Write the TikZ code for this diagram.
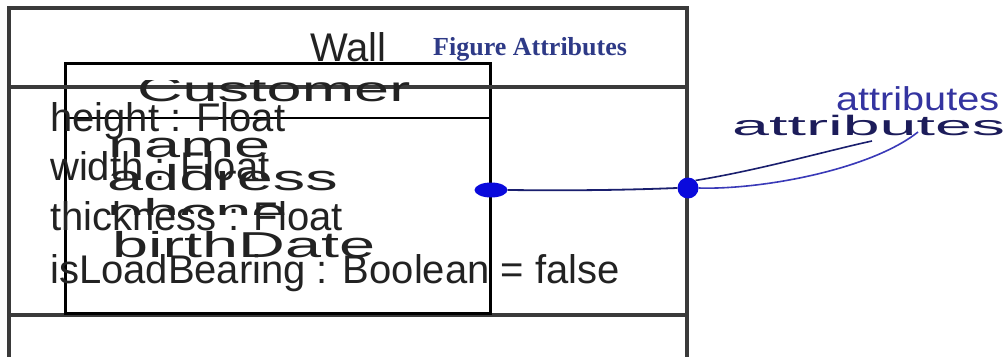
\documentclass[tikz,border=0pt]{standalone}
\usepackage{fontspec}
\setmainfont{Liberation Serif}
\setsansfont{Liberation Sans}
\usepackage{graphicx}
\usetikzlibrary{shapes.geometric}
\definecolor{wallgray}{HTML}{3A3A3A}
\definecolor{txtgray}{HTML}{222222}
\definecolor{figblue}{HTML}{2E3A87}
\definecolor{dotblue}{HTML}{0A0ADC}
\definecolor{navyline}{HTML}{1A1F6E}
\definecolor{attrblue}{HTML}{3434A0}
\definecolor{attrnavy}{HTML}{1C1C5A}
\definecolor{curveblue}{HTML}{3A3AB8}
\tikzset{
  wallbox/.style={draw=wallgray, line width=3.2pt},
  custbox/.style={draw=black, line width=3pt},
  lbl/.style={inner sep=0pt, anchor=base west, font=\sffamily\fontsize{40}{40}\selectfont, text=txtgray},
  wide/.style={inner sep=0pt, anchor=base west, font=\sffamily\fontsize{36}{36}\selectfont, text=txtgray},
  dot/.style={fill=dotblue, draw=none, inner sep=0pt},
}
\newcommand{\widetxt}[1]{\scalebox{1.8}[1]{#1}}
\begin{document}
\begin{tikzpicture}[x=1pt,y=-1pt]
\useasboundingbox (0,0) rectangle (1008,356);
\fill[white] (0,0) rectangle (1008,356);
% Wall class box
\draw[wallbox] (9,8) rectangle (687,372);
\draw[wallbox] (9,315) -- (687,315);
% Customer class box
\draw[custbox] (65,63) rectangle (490,313);
\draw[black, line width=2pt] (65,118) -- (490,118);
\draw[wallbox] (9,87) -- (687,87);
% titles
\node[lbl] (wall) at (310,61) {Wall};
\node[inner sep=0pt, anchor=base west, font=\bfseries\fontsize{26}{26}\selectfont, text=figblue] (fig) at (433,55) {Figure Attributes};
\begin{scope}
\clip (66,80) rectangle (489,117);
\node[wide, font=\sffamily\fontsize{35}{35}\selectfont] (cust) at (137,101) {\widetxt{Customer}};
\end{scope}
% customer attributes
\node[wide] (name) at (108,157) {\widetxt{name}};
\node[wide] (addr) at (107,190) {\widetxt{address}};
\begin{scope}
\clip (66,196) rectangle (489,214);
\node[wide] (phone) at (107,224) {\widetxt{phone}};
\end{scope}
\node[wide] (birth) at (112,257) {\widetxt{birthDate}};
% wall attributes
\node[lbl] (h) at (50,131) {height : Float};
\node[lbl] (w) at (50,180) {width : Float};
\node[lbl] (t) at (50,230) {thickness : Float};
\node[lbl] (lb) at (50,283) {isLoadBearing : Boolean = false};
% association ends
\node[dot, ellipse, minimum width=33pt, minimum height=15pt] (e) at (491,190) {};
\node[dot, circle, minimum size=21pt] (c) at (688,188) {};
\draw[navyline, line width=1.8pt] (e.east) .. controls (600,191) and (650,189) .. (c.west);
% labels
\node[inner sep=0pt, anchor=base west, font=\sffamily\fontsize{33}{33}\selectfont, text=attrblue] (a1) at (836,110) {\scalebox{1.2}[1]{attributes}};
\node[inner sep=0pt, anchor=base west, font=\sffamily\fontsize{28}{28}\selectfont, text=attrnavy] (a2) at (732,135) {\scalebox{2.37}[1]{attributes}};
\coordinate (u1) at (872,141);
\coordinate (u2) at (918,132);
\draw[navyline, line width=1.6pt] (c.north east) .. controls (760,170) and (830,150) .. (u1);
\draw[curveblue, line width=1.6pt] (c.east) .. controls (760,190) and (870,170) .. (u2);
\end{tikzpicture}
\end{document}
